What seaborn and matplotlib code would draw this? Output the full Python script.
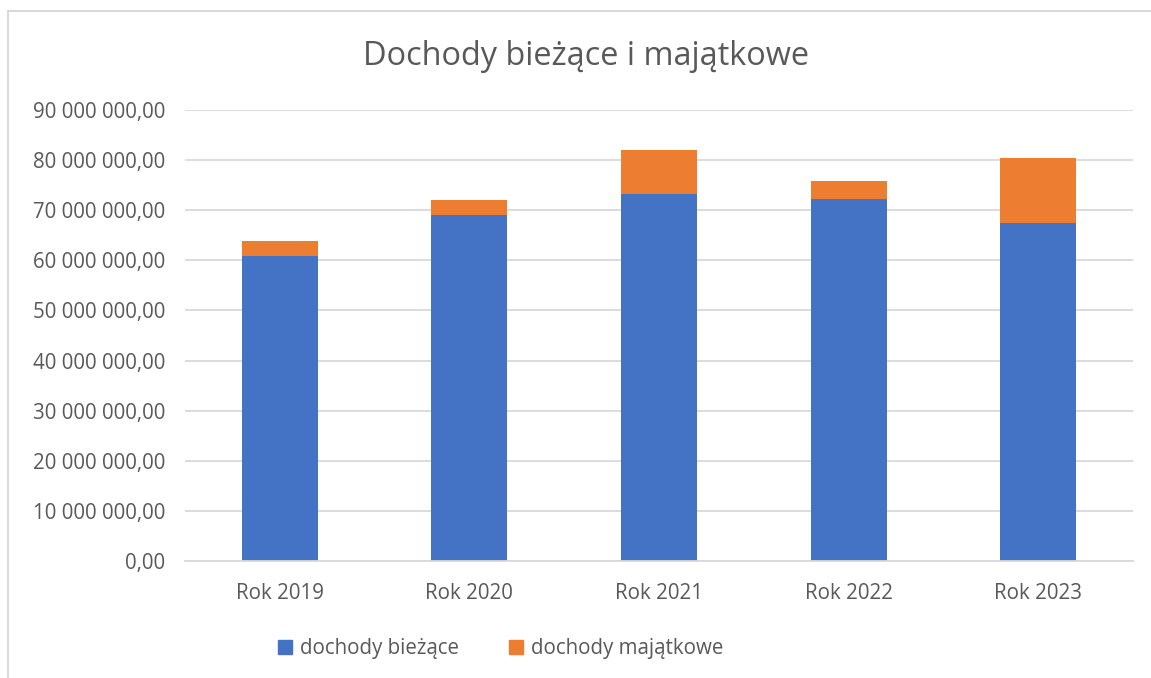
import pandas as pd
import seaborn as sns
import matplotlib.pyplot as plt
from matplotlib.lines import Line2D
from matplotlib.patches import Patch
from matplotlib.ticker import FuncFormatter

lata = ['Rok 2019', 'Rok 2020', 'Rok 2021', 'Rok 2022', 'Rok 2023']
dochody_biezace = [60800000, 69000000, 73300000, 72300000, 67500000]
dochody_majatkowe = [3000000, 3100000, 8800000, 3600000, 13000000]

dane = pd.DataFrame({'Rok': lata,
                     'biezace': dochody_biezace,
                     'majatkowe': dochody_majatkowe})
dane['razem'] = dane.biezace + dane.majatkowe

sns.set_style('white')
plt.rcParams['font.family'] = ['Open Sans', 'DejaVu Sans']

niebieski = '#4472C4'
pomaranczowy = '#ED7D31'
szary = '#595959'

fig = plt.figure(figsize=(11.51, 6.78), dpi=100)
ax = fig.add_axes([0.1607, 0.1726, 0.8237, 0.6652])

sns.barplot(data=dane, x='Rok', y='razem', color=pomaranczowy, width=0.4,
            saturation=1, linewidth=0, ax=ax)
sns.barplot(data=dane, x='Rok', y='biezace', color=niebieski, width=0.4,
            saturation=1, linewidth=0, ax=ax)

ax.set_xlim(-0.5, 4.5)
ax.set_ylim(0, 90000000)
ax.set_yticks(range(0, 90000001, 10000000))
ax.yaxis.set_major_formatter(FuncFormatter(
    lambda v, p: f'{v:,.2f}'.replace(',', ' ').replace('.', ',')))
ax.grid(axis='y', color='#D9D9D9', linewidth=1.3)
ax.set_axisbelow(True)
for s in ['top', 'right', 'left']:
    ax.spines[s].set_visible(False)
ax.spines['bottom'].set_color('#D9D9D9')
ax.spines['bottom'].set_linewidth(1.3)
ax.tick_params(axis='both', length=0, labelsize=14.8, colors=szary)
ax.tick_params(axis='x', pad=16)
ax.tick_params(axis='y', pad=14)
ax.set_xlabel('')
ax.set_ylabel('')

fig.text(0.509, 0.916, 'Dochody bieżące i majątkowe', ha='center', va='center',
         fontsize=23.4, color=szary)

uchwyty = [Patch(color=niebieski, label='dochody bieżące'),
           Patch(color=pomaranczowy, label='dochody majątkowe')]
fig.legend(handles=uchwyty, loc='center', bbox_to_anchor=(0.435, 0.043),
           ncol=2, frameon=False, fontsize=14.8, labelcolor=szary,
           handlelength=0.7, handleheight=0.7, handletextpad=0.4,
           columnspacing=2.4)

fig.add_artist(Line2D([8 / 1151, 1], [1 - 11 / 678, 1 - 11 / 678],
                      color='#D9D9D9', linewidth=1.5))
fig.add_artist(Line2D([8 / 1151, 8 / 1151], [0, 1 - 11 / 678],
                      color='#D9D9D9', linewidth=1.5))

fig.savefig('out.png', dpi=100)
